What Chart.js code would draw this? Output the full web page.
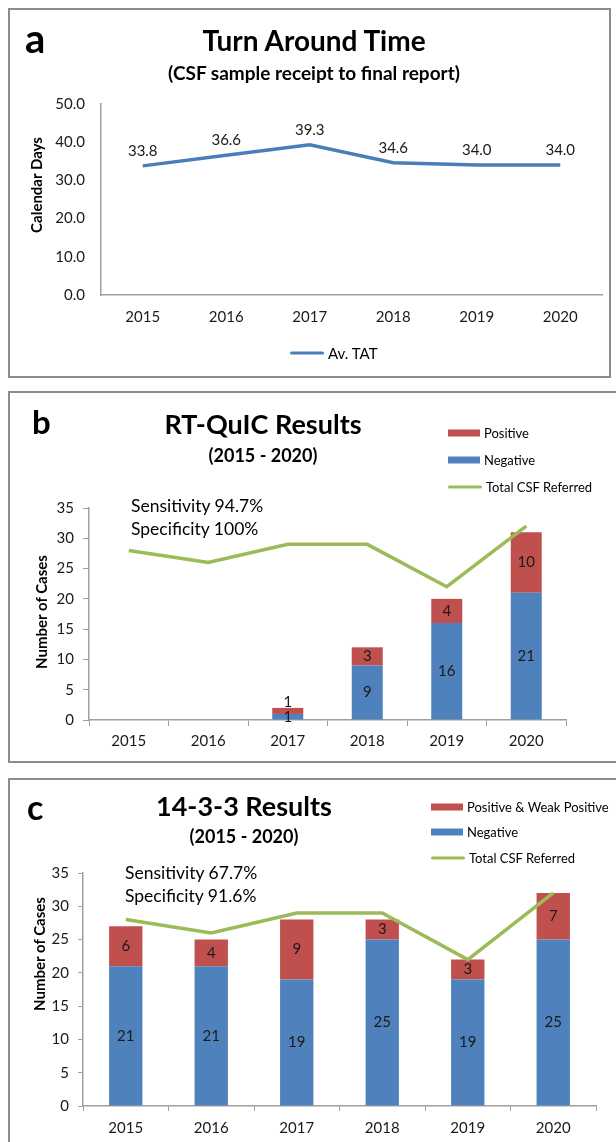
<!DOCTYPE html>
<html><head><meta charset="utf-8">
<script src="https://cdn.jsdelivr.net/npm/chart.js@4.4.1/dist/chart.umd.min.js"></script>
<style>
html,body{margin:0;padding:0;background:#fff;}
body{width:616px;height:1142px;position:relative;overflow:hidden;font-family:Lato,"Open Sans",sans-serif;color:#000;}
.panel{position:absolute;border:2px solid #8c8c8c;box-sizing:border-box;}
.t{position:absolute;white-space:nowrap;line-height:1;transform:translate(-50%,-50%);}
.l{position:absolute;white-space:nowrap;line-height:1;transform:translate(0,-50%);}
.r{position:absolute;white-space:nowrap;line-height:1;transform:translate(-50%,-50%) rotate(-90deg);}
canvas{position:absolute;left:0;}
.leg{position:absolute;display:flex;align-items:center;white-space:nowrap;line-height:1;transform:translate(0,-50%);}
.sw{display:inline-block;margin-right:4px;}
</style></head><body>

<div class="panel" style="left:8px;top:8px;width:603px;height:370px;"></div>
<div class="panel" style="left:8px;top:391px;width:640px;height:372px;"></div>
<div class="panel" style="left:8px;top:778px;width:640px;height:400px;"></div>

<canvas id="cA" width="616" height="380" style="top:0px;"></canvas>
<canvas id="cB" width="616" height="380" style="top:380px;"></canvas>
<canvas id="cC" width="616" height="377" style="top:765px;"></canvas>

<!-- panel a texts -->
<div class="l" style="left:25px;top:38px;font-size:40px;font-weight:700;">a</div>
<div class="t" style="left:314px;top:40px;font-size:28px;font-weight:700;">Turn Around Time</div>
<div class="t" style="left:314px;top:72px;font-size:19px;font-weight:700;">(CSF sample receipt to final report)</div>
<div class="r" style="left:36px;top:185px;font-size:15px;font-weight:700;">Calendar Days</div>
<div id="legA"></div>

<!-- panel b texts -->
<div class="l" style="left:32px;top:421px;font-size:33px;font-weight:700;">b</div>
<div class="t" style="left:263px;top:423px;font-size:27px;font-weight:700;">RT-QuIC Results</div>
<div class="t" style="left:263px;top:455px;font-size:18px;font-weight:700;">(2015 - 2020)</div>
<div class="l" style="left:131px;top:506px;font-size:17.5px;">Sensitivity 94.7%</div>
<div class="l" style="left:131px;top:529px;font-size:17.5px;">Specificity 100%</div>
<div class="r" style="left:41px;top:612px;font-size:15px;font-weight:700;">Number of Cases</div>
<div id="legB"></div>

<!-- panel c texts -->
<div class="l" style="left:27px;top:807px;font-size:34px;font-weight:700;">c</div>
<div class="t" style="left:244px;top:805px;font-size:27px;font-weight:700;">14-3-3 Results</div>
<div class="t" style="left:244px;top:836px;font-size:18px;font-weight:700;">(2015 - 2020)</div>
<div class="l" style="left:125px;top:873px;font-size:17.5px;">Sensitivity 67.7%</div>
<div class="l" style="left:125px;top:896px;font-size:17.5px;">Specificity 91.6%</div>
<div class="r" style="left:39px;top:954px;font-size:15px;font-weight:700;">Number of Cases</div>
<div id="legC"></div>

<script>
// ---- data ----
const years = ['2015','2016','2017','2018','2019','2020'];
const tatValues = [33.8, 36.6, 39.3, 34.6, 34.0, 34.0];
const totalCSF = [28, 26, 29, 29, 22, 32];
const rtNegative = [0, 0, 1, 9, 16, 21];
const rtPositive = [0, 0, 1, 3, 4, 10];
const p1433Negative = [21, 21, 19, 25, 19, 25];
const p1433Positive = [6, 4, 9, 3, 3, 7];
const tatTickMax = 50;
const caseTickMax = 35;

// ---- colours ----
const BLUE = '#4F81BD', RED = '#C0504D', GREEN = '#9BBB59', TATBLUE = '#4A7EBB';
const AXIS = '#a0a0a0', TXT = '#1a1a1a';

const valueLabels = {
  id: 'valueLabels',
  afterDatasetsDraw(chart) {
    const ctx = chart.ctx;
    chart.data.datasets.forEach((ds, i) => {
      const cfg = ds.valueLabel; if (!cfg) return;
      const meta = chart.getDatasetMeta(i);
      meta.data.forEach((el, j) => {
        const v = ds.data[j]; if (!v) return;
        let y;
        if (meta.type === 'bar') {
          const h = Math.abs(el.base - el.y);
          y = (cfg.above && h < 10) ? el.y - 6 : (el.y + el.base) / 2;
        } else {
          y = el.y + cfg.dy;
        }
        ctx.save();
        ctx.font = cfg.font; ctx.fillStyle = cfg.color || TXT;
        ctx.textAlign = 'center'; ctx.textBaseline = 'middle';
        ctx.fillText(cfg.format ? cfg.format(v) : String(v), el.x, y);
        ctx.restore();
      });
    });
  }
};

const tickFont = {family: 'Lato', size: 15};

// ---- panel a ----
new Chart(document.getElementById('cA'), {
  type: 'line',
  data: {labels: years, datasets: [{
    label: 'Av. TAT', data: tatValues, borderColor: TATBLUE, backgroundColor: TATBLUE,
    borderWidth: 3.5, pointRadius: 0, tension: 0,
    valueLabel: {dy: -15, font: '15px Lato', format: v => v.toFixed(1)}
  }]},
  options: {
    responsive: false, animation: false, devicePixelRatio: 1,
    layout: {padding: {left: 20, right: 14, top: 104, bottom: 0}},
    plugins: {legend: {display: false}, tooltip: {enabled: false}},
    scales: {
      x: {offset: true, grid: {display: false, drawTicks: false}, border: {display: true, color: AXIS, width: 1.5},
          ticks: {padding: 13, font: tickFont, color: TXT}, afterFit: s => { s.height = 85; }},
      y: {min: 0, max: tatTickMax, grid: {display: false, drawTicks: false}, border: {display: true, color: AXIS, width: 1.5},
          ticks: {stepSize: 10, padding: 16, font: tickFont, color: TXT, callback: v => v.toFixed(1)},
          afterFit: s => { s.width = 81; }}
    }
  },
  plugins: [valueLabels]
});

function barOpts(pad, yWidth, xHeight, tl, tpad, xpad) {
  return {
    responsive: false, animation: false, devicePixelRatio: 1,
    layout: {padding: pad},
    plugins: {legend: {display: false}, tooltip: {enabled: false}},
    scales: {
      x: {stacked: true, offset: true,
          grid: {display: true, offset: true, drawOnChartArea: false, drawTicks: true, tickLength: tl, color: AXIS, lineWidth: 1},
          border: {display: true, color: AXIS, width: 1.5},
          ticks: {padding: xpad, font: tickFont, color: TXT}, afterFit: s => { s.height = xHeight; }},
      y: {stacked: true, min: 0, max: caseTickMax,
          grid: {display: true, drawOnChartArea: false, drawTicks: true, tickLength: tl, color: AXIS, lineWidth: 1},
          border: {display: true, color: AXIS, width: 1.5},
          ticks: {stepSize: 5, padding: tpad, font: tickFont, color: TXT}, afterFit: s => { s.width = yWidth; }}
    }
  };
}

function barData(neg, pos, posLabel) {
  return {labels: years, datasets: [
    {type: 'line', label: 'Total CSF Referred', data: totalCSF, borderColor: GREEN, backgroundColor: GREEN,
     borderWidth: 3.5, pointRadius: 0, tension: 0, order: 0, stack: 'total'},
    {type: 'bar', label: 'Negative', data: neg, backgroundColor: BLUE, order: 1, stack: 'cases',
     categoryPercentage: 1, barPercentage: 0.39, valueLabel: {font: '15px Lato'}},
    {type: 'bar', label: posLabel, data: pos, backgroundColor: RED, order: 1, stack: 'cases',
     categoryPercentage: 1, barPercentage: 0.39, valueLabel: {font: '15px Lato', above: true}}
  ]};
}

// ---- panel b ----
new Chart(document.getElementById('cB'), {
  type: 'bar',
  data: barData(rtNegative, rtPositive, 'Positive'),
  options: barOpts({left: 0, right: 50, top: 128, bottom: 0}, 89, 40, 6, 9, 6),
  plugins: [valueLabels]
});

// ---- panel c ----
new Chart(document.getElementById('cC'), {
  type: 'bar',
  data: barData(p1433Negative, p1433Positive, 'Positive & Weak Positive'),
  options: barOpts({left: 0, right: 20, top: 108, bottom: 0}, 83, 36, 5, 9, 8),
  plugins: [valueLabels]
});

// ---- legends (HTML) ----
function legendRow(parent, x, y, label, color, isLine, fs) {
  const d = document.createElement('div');
  d.className = 'leg';
  d.style.left = x + 'px'; d.style.top = y + 'px'; d.style.fontSize = fs + 'px';
  const s = document.createElement('span');
  s.className = 'sw';
  s.style.width = (isLine ? 34 : 32) + 'px';
  s.style.height = (isLine ? 3.5 : 7) + 'px';
  s.style.background = color;
  if (isLine) s.style.borderRadius = '2px';
  d.appendChild(s);
  d.appendChild(document.createTextNode(label));
  parent.appendChild(d);
}
legendRow(document.getElementById('legA'), 290, 353, 'Av. TAT', TATBLUE, true, 15);
const legB = document.getElementById('legB');
legendRow(legB, 448, 433, 'Positive', RED, false, 13);
legendRow(legB, 448, 460, 'Negative', BLUE, false, 13);
legendRow(legB, 448, 487, 'Total CSF Referred', GREEN, true, 13);
const legC = document.getElementById('legC');
legendRow(legC, 431, 807, 'Positive & Weak Positive', RED, false, 13);
legendRow(legC, 431, 832, 'Negative', BLUE, false, 13);
legendRow(legC, 431, 858, 'Total CSF Referred', GREEN, true, 13);
</script>
</body></html>
